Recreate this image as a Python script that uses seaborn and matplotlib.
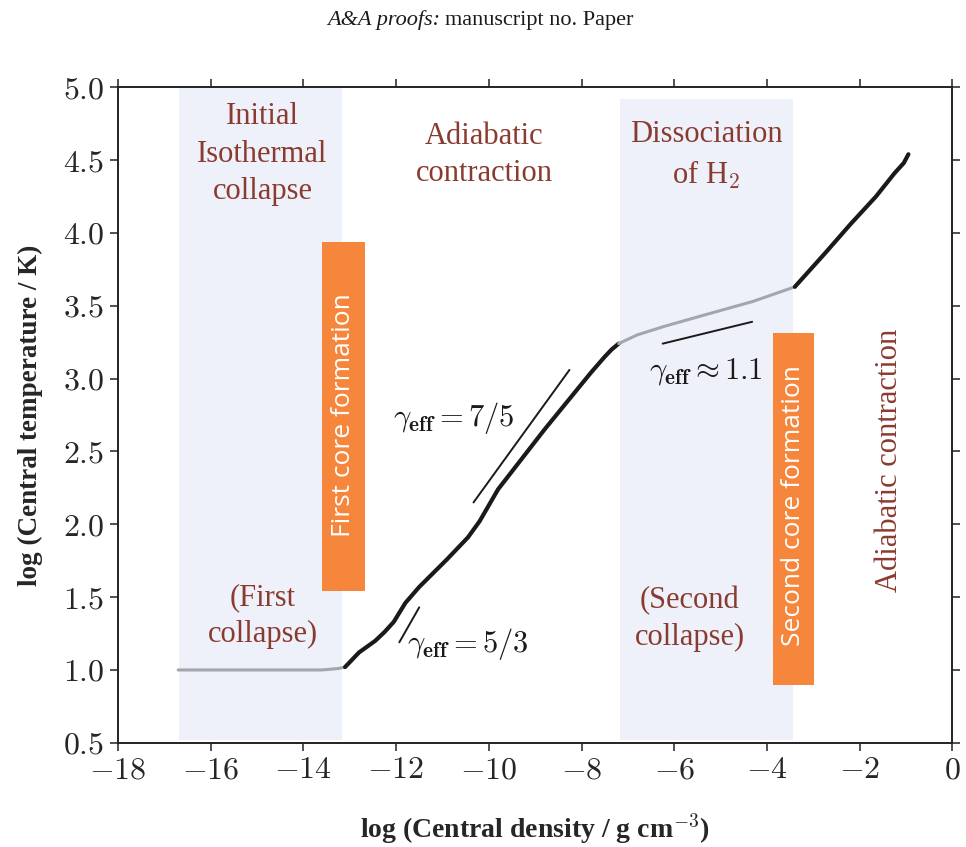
import matplotlib
matplotlib.use('Agg')
import matplotlib.pyplot as plt
import matplotlib.patches as mpatches
from matplotlib.ticker import FuncFormatter
import seaborn as sns
import pandas as pd

# ── Data ────────────────────────────────────────────────────
# isothermal collapse (grey)
iso_x = [-16.7, -15.5, -14.5, -13.6, -13.25, -13.1]
iso_T = [1.00, 1.00, 1.00, 1.00, 1.01, 1.02]

# first core / adiabatic contraction (black)
adi1_x = [-13.1, -12.8, -12.45, -12.25, -12.05, -11.8, -11.5, -10.9, -10.45,
          -10.2, -9.8, -8.8, -7.8, -7.5, -7.35, -7.2]
adi1_T = [1.02, 1.12, 1.20, 1.26, 1.33, 1.46, 1.57, 1.76, 1.91,
          2.02, 2.24, 2.65, 3.04, 3.15, 3.20, 3.24]

# H2 dissociation (grey)
dis_x = [-7.2, -6.8, -6.2, -5.2, -4.3, -3.4]
dis_T = [3.24, 3.30, 3.36, 3.45, 3.53, 3.63]

# second core (black)
adi2_x = [-3.4, -2.75, -2.2, -1.65, -1.25, -1.05, -0.95]
adi2_T = [3.63, 3.86, 4.06, 4.25, 4.41, 4.48, 4.54]

# reference slopes
g53_x, g53_T = [-11.93, -11.5], [1.19, 1.43]
g75_x, g75_T = [-10.33, -8.26], [2.15, 3.06]
g11_x, g11_T = [-6.25, -4.32], [3.24, 3.39]

# shaded phases and formation boxes (x0, x1, y0, y1)
bands = [(-16.68, -13.17, 0.52, 5.0), (-7.17, -3.43, 0.52, 4.92)]
boxes = [(-13.6, -12.66, 1.54, 3.94), (-3.88, -2.98, 0.90, 3.31)]

xticks = [-18, -16, -14, -12, -10, -8, -6, -4, -2, 0]
yticks = [0.5, 1.0, 1.5, 2.0, 2.5, 3.0, 3.5, 4.0, 4.5, 5.0]

# ── Style ───────────────────────────────────────────────────
sns.set_theme(style="ticks")
plt.rcParams['font.family'] = ['Liberation Serif', 'DejaVu Serif']
plt.rcParams['mathtext.fontset'] = 'cm'

BROWN = '#8a3b30'
ORANGE = '#f5863c'
BAND = '#eff1fa'
GREY = '#a4a6ae'
DARK = '#1a1a1a'

fig = plt.figure(figsize=(9.66, 8.47), dpi=100, facecolor='white')
ax = fig.add_axes([0.122, 0.123, 0.864, 0.774])

for x0, x1, y0, y1 in bands:
    ax.add_patch(mpatches.Rectangle((x0, y0), x1 - x0, y1 - y0,
                                    facecolor=BAND, edgecolor='none', zorder=0))
for x0, x1, y0, y1 in boxes:
    ax.add_patch(mpatches.Rectangle((x0, y0), x1 - x0, y1 - y0,
                                    facecolor=ORANGE, edgecolor='none', zorder=1))

segs = [(iso_x, iso_T, GREY, 2.2), (adi1_x, adi1_T, DARK, 3.0),
        (dis_x, dis_T, GREY, 2.2), (adi2_x, adi2_T, DARK, 3.0)]
for xs, ts, c, lw in segs:
    df = pd.DataFrame({'rho': xs, 'T': ts})
    sns.lineplot(data=df, x='rho', y='T', ax=ax, color=c, linewidth=lw,
                 sort=False, estimator=None, solid_capstyle='round',
                 solid_joinstyle='round', zorder=3)

for xs, ts in [(g53_x, g53_T), (g75_x, g75_T), (g11_x, g11_T)]:
    sns.lineplot(x=xs, y=ts, ax=ax, color=DARK, linewidth=1.4,
                 sort=False, estimator=None, zorder=3)

# ── Labels inside ───────────────────────────────────────────
tkw = dict(color=BROWN, fontsize=22, ha='center', va='center',
           linespacing=1.38, zorder=4)
ax.text(-14.88, 4.54, 'Initial\nIsothermal\ncollapse', **tkw)
ax.text(-10.1, 4.535, 'Adiabatic\ncontraction', **tkw)
ax.text(-5.31, 4.53, 'Dissociation\nof H$_2$', **tkw)
ax.text(-14.88, 1.37, '(First\ncollapse)', **tkw)
ax.text(-5.67, 1.35, '(Second\ncollapse)', **tkw)
ax.text(-1.35, 2.44, 'Adiabatic contraction', rotation=90,
        color=BROWN, fontsize=22, ha='center', va='center', zorder=4)

skw = dict(color='white', fontsize=19, family='Open Sans', rotation=90,
           ha='center', va='center', zorder=4)
ax.text(-13.13, 2.75, 'First core formation', **skw)
ax.text(-3.43, 2.13, 'Second core formation', **skw)

gkw = dict(color=DARK, fontsize=22, ha='center', va='center', zorder=4)
ax.text(-10.76, 2.73, r'$\gamma_{\mathbf{eff}} = 7/5$', **gkw)
ax.text(-10.46, 1.18, r'$\gamma_{\mathbf{eff}} = 5/3$', **gkw)
ax.text(-5.31, 3.05, r'$\gamma_{\mathbf{eff}} \approx 1.1$', **gkw)

# ── Axes ────────────────────────────────────────────────────
ax.set_xlim(-18, 0)
ax.set_ylim(0.5, 5.0)
ax.set_xticks(xticks)
ax.set_yticks(yticks)
ax.xaxis.set_major_formatter(FuncFormatter(lambda v, p: f'${v:.0f}$'))
ax.yaxis.set_major_formatter(FuncFormatter(lambda v, p: f'${v:.1f}$'))
ax.tick_params(axis='both', which='major', direction='out', length=6,
               width=1.2, labelsize=23, color='#333333', top=True, right=True,
               labeltop=False, labelright=False)
for sp in ax.spines.values():
    sp.set_visible(True)
    sp.set_color('#222222')
    sp.set_linewidth(1.4)

ax.set_xlabel(r'log (Central density / g cm$^{-3}$)', fontsize=20,
              fontweight='bold')
ax.set_ylabel('log (Central temperature / K)', fontsize=19.5,
              fontweight='bold')
ax.xaxis.set_label_coords(0.5, -0.105)
ax.yaxis.set_label_coords(-0.09, 0.5)

# running header
fig.text(0.456, 0.976, 'A&A proofs:', ha='right', va='center',
         fontsize=16, style='italic', color=DARK)
fig.text(0.461, 0.976, 'manuscript no. Paper', ha='left', va='center',
         fontsize=16, color=DARK)

plt.savefig('out.png', dpi=100, facecolor='white')
